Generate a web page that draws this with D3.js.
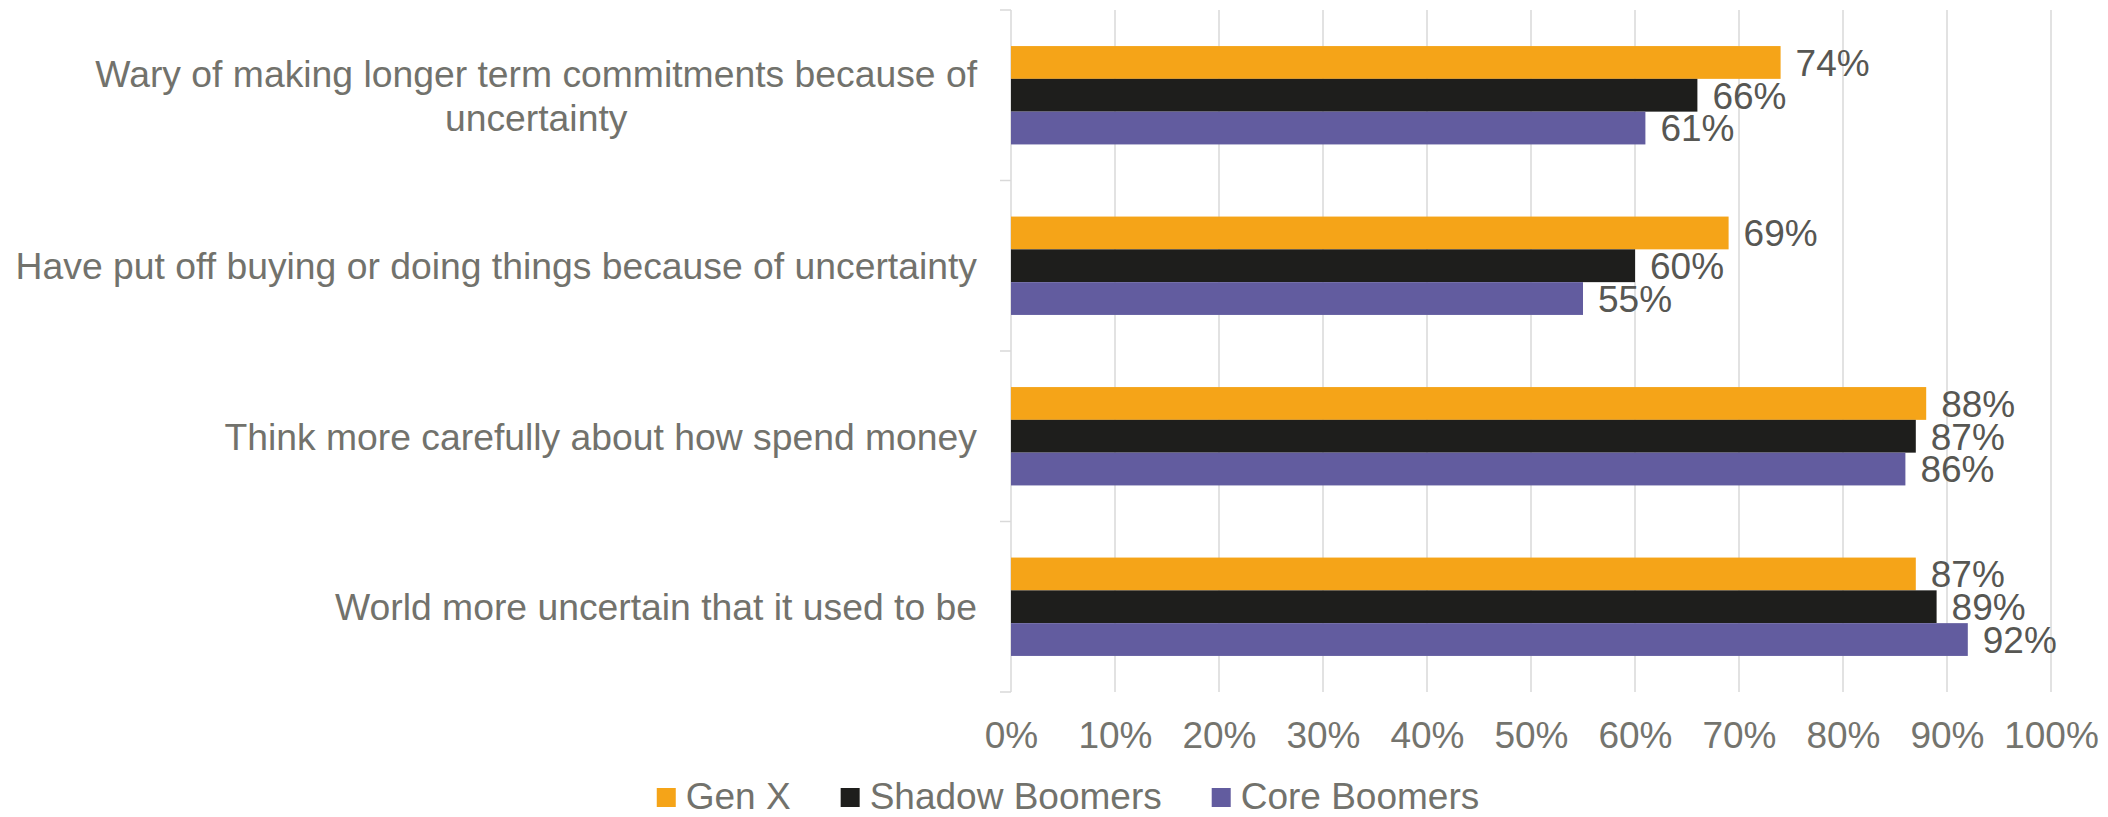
<!DOCTYPE html>
<html>
<head>
<meta charset="utf-8">
<script src="https://cdn.jsdelivr.net/npm/d3@7"></script>
<style>
  html, body { margin: 0; padding: 0; background: #fff; }
  svg { display: block; font-family: "Liberation Sans", Arial, sans-serif; }
</style>
</head>
<body>
<svg id="chart" width="2108" height="817"></svg>
<script>
// Survey statements (top to bottom), each a list of label lines
const categories = [
  ["Wary of making longer term commitments because of", "uncertainty"],
  ["Have put off buying or doing things because of uncertainty"],
  ["Think more carefully about how spend money"],
  ["World more uncertain that it used to be"]
];
const seriesNames = ["Gen X", "Shadow Boomers", "Core Boomers"];
const seriesColors = ["#F5A418", "#1E1E1C", "#625C9F"];
const genX          = [74, 69, 88, 87];
const shadowBoomers = [66, 60, 87, 89];
const coreBoomers   = [61, 55, 86, 92];
const xTicks = [0, 10, 20, 30, 40, 50, 60, 70, 80, 90, 100];

const series = [genX, shadowBoomers, coreBoomers];

const svg = d3.select("#chart");
const plot = { left: 1011, right: 2051, top: 10, bottom: 692 };

const x = d3.scaleLinear().domain([0, 100]).range([plot.left, plot.right]);
const y = d3.scaleBand().domain(d3.range(categories.length))
  .range([plot.top, plot.bottom]).paddingInner(0).paddingOuter(0);
const inner = d3.scaleBand().domain(d3.range(series.length))
  .range([0, y.bandwidth()]).paddingOuter(1.1).paddingInner(0);

// vertical gridlines
svg.append("g").selectAll("line").data(xTicks.filter(d => d > 0)).join("line")
  .attr("x1", d => x(d)).attr("x2", d => x(d))
  .attr("y1", plot.top).attr("y2", plot.bottom)
  .attr("stroke", "#D9D9D9").attr("stroke-width", 1.5);

// category axis with ticks at band boundaries
const axisG = svg.append("g");
axisG.append("line")
  .attr("x1", plot.left).attr("x2", plot.left)
  .attr("y1", plot.top).attr("y2", plot.bottom)
  .attr("stroke", "#D9D9D9").attr("stroke-width", 1.5);
axisG.selectAll("line.tick").data(d3.range(categories.length + 1)).join("line")
  .attr("class", "tick")
  .attr("x1", plot.left - 11).attr("x2", plot.left)
  .attr("y1", i => plot.top + i * y.bandwidth())
  .attr("y2", i => plot.top + i * y.bandwidth())
  .attr("stroke", "#D9D9D9").attr("stroke-width", 1.5);

// x-axis tick labels
const xAxis = d3.axisBottom(x).tickValues(xTicks).tickFormat(d => d + "%").tickSize(0);
const xg = svg.append("g").attr("transform", `translate(0,${plot.bottom})`).call(xAxis);
xg.select(".domain").remove();
xg.selectAll("text")
  .attr("dy", null).attr("y", 56)
  .attr("font-size", 37).attr("fill", "#74746E")
  .attr("font-family", "'Liberation Sans', Arial, sans-serif");

// bars with value labels
const groups = svg.append("g").selectAll("g").data(categories).join("g")
  .attr("transform", (d, i) => `translate(0,${y(i)})`);

groups.each(function(cat, ci) {
  const g = d3.select(this);
  series.forEach((vals, si) => {
    g.append("rect")
      .attr("x", x(0))
      .attr("y", inner(si))
      .attr("width", x(vals[ci]) - x(0))
      .attr("height", inner.bandwidth())
      .attr("fill", seriesColors[si]);
    g.append("text")
      .attr("x", x(vals[ci]) + 15)
      .attr("y", inner(si) + inner.bandwidth() / 2)
      .attr("dy", "0.36em")
      .attr("font-size", 37)
      .attr("fill", "#575753")
      .text(vals[ci] + "%");
  });
});

// category labels: centred multi-line block, right-aligned against the axis
const labelRight = 977;
const lineH = 44;
svg.append("g").selectAll("g").data(categories).join("g").each(function(lines, i) {
  const g = d3.select(this);
  const cy = y(i) + y.bandwidth() / 2;
  const texts = lines.map((ln, k) => g.append("text")
    .attr("font-size", 37.3).attr("fill", "#72726C")
    .attr("y", cy + (k - (lines.length - 1) / 2) * lineH)
    .attr("dy", "0.36em")
    .text(ln));
  const widths = texts.map(t => t.node().getComputedTextLength());
  const maxW = d3.max(widths);
  const center = labelRight - maxW / 2;
  texts.forEach(t => t.attr("x", center).attr("text-anchor", "middle"));
});

// legend
const legend = svg.append("g");
const legendBase = 809;
const gap = 50;
let cursor = 0;
seriesNames.forEach((name, i) => {
  const it = legend.append("g");
  it.append("rect").attr("x", 0).attr("y", legendBase - 21).attr("width", 19).attr("height", 19)
    .attr("fill", seriesColors[i]);
  const t = it.append("text").attr("x", 29).attr("y", legendBase)
    .attr("font-size", 37).attr("fill", "#72726C").text(name);
  const w = 29 + t.node().getComputedTextLength();
  it.attr("transform", `translate(${cursor},0)`);
  cursor += w + gap;
});
const totalW = cursor - gap;
legend.attr("transform", `translate(${1068 - totalW / 2},0)`);
</script>
</body>
</html>
